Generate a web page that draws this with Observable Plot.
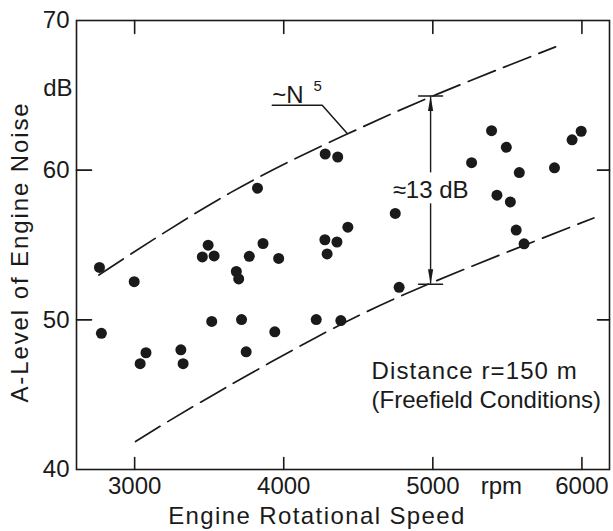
<!DOCTYPE html>
<html><head><meta charset="utf-8">
<script src="https://cdn.jsdelivr.net/npm/d3@7"></script>
<script src="https://cdn.jsdelivr.net/npm/@observablehq/plot@0.6"></script>
<style>body{margin:0;background:#fff}</style>
</head><body><div id="chart"></div>
<script>
// Measured points: engine speed (rpm) and A-level (dB)
const speed = [2764, 2777, 2997, 3037, 3076, 3310, 3325, 3454, 3493, 3533, 3517, 3682, 3698, 3717, 3769, 3748, 3824, 3861, 3966, 3940, 4218, 4278, 4362, 4276, 4291, 4357, 4383, 4430, 4748, 4774, 5260, 5394, 5430, 5493, 5520, 5580, 5559, 5612, 5816, 5934, 5995];
const level = [53.5, 49.1, 52.55, 47.07, 47.8, 48.0, 47.07, 54.2, 54.99, 54.27, 49.89, 53.23, 52.73, 50.02, 54.24, 47.86, 58.8, 55.1, 54.1, 49.2, 50.02, 61.08, 60.88, 55.35, 54.4, 55.2, 49.95, 56.19, 57.11, 52.17, 60.5, 62.64, 58.33, 61.53, 57.88, 59.84, 56.0, 55.08, 60.16, 62.03, 62.6];

// Envelope curves (~N^5)
const upperSpeed = [2760, 3643, 4414, 5030, 5823];
const upperLevel = [53.0, 58.5, 62.36, 65.08, 68.24];
const lowerSpeed = [3006, 3443, 4220, 4974, 6080];
const lowerLevel = [41.87, 44.5, 48.84, 52.4, 56.81];

// Axis ticks
const xTicks = [3000, 4000, 5000, 6000];
const yTicks = [40, 50, 60, 70];

// Annotations
const leadSpeed = [3923, 4258, 4426];
const leadLevel = [64.34, 64.34, 62.45];
const spanSpeed = 4985;
const spanTop = 64.96, spanBottom = 52.38;
const spanGapTop = 59.82, spanGapBottom = 57.75;
const spanLabel = {x: 4985, y: 58.64, text: "≈13 dB"};
const powerLabel = {x: 3923, y: 64.5, text: "~N"};
const powerExp = {x: 4200, y: 65.3, text: "5"};
const noteLines = [
  {x: 4589, y: 46.55, text: "Distance r=150 m"},
  {x: 4589, y: 44.6, text: "(Freefield Conditions)"}
];
const unitY = {y: 65.5, text: "dB"};
const unitX = {x: 5460, text: "rpm"};
const xTitle = "Engine Rotational Speed";
const yTitle = "A-Level of Engine Noise";

const points = speed.map((s, i) => ({s, l: level[i]}));
const upper = upperSpeed.map((s, i) => ({s, l: upperLevel[i]}));
const lower = lowerSpeed.map((s, i) => ({s, l: lowerLevel[i]}));
const lead = leadSpeed.map((s, i) => ({s, l: leadLevel[i]}));
const innerY = yTicks.filter(d => d > 40 && d < 70);

const ink = "#1a1a1a";
const lineShape = {draw(context, l) { context.moveTo(0, 0); context.lineTo(0, -l); }};

const chart = Plot.plot({
  width: 613, height: 531,
  marginLeft: 76, marginRight: 4, marginTop: 20, marginBottom: 62,
  style: {fontFamily: "'Liberation Sans', Arial, sans-serif", fontSize: "24px", background: "white", color: ink},
  x: {domain: [2610, 6185]},
  y: {domain: [40, 70]},
  marks: [
    Plot.frame({stroke: ink, strokeWidth: 1.6}),
    Plot.axisX({ticks: xTicks, tickSize: 0, tickPadding: 7, label: null, tickFormat: d => String(d)}),
    Plot.axisY({ticks: yTicks, tickSize: 0, tickPadding: 7, label: null, tickFormat: d => String(d)}),
    // inward ticks
    Plot.vector(xTicks, {x: d => d, frameAnchor: "bottom", length: 12, rotate: 0, anchor: "start", shape: lineShape, stroke: ink, strokeWidth: 1.6}),
    Plot.vector(xTicks, {x: d => d, frameAnchor: "top", length: 13, rotate: 180, anchor: "start", shape: lineShape, stroke: ink, strokeWidth: 1.6}),
    Plot.vector(innerY, {y: d => d, frameAnchor: "left", length: 15, rotate: 90, anchor: "start", shape: lineShape, stroke: ink, strokeWidth: 1.6}),
    Plot.vector(innerY, {y: d => d, frameAnchor: "right", length: 12, rotate: -90, anchor: "start", shape: lineShape, stroke: ink, strokeWidth: 1.6}),
    // envelope curves
    Plot.line(upper, {x: "s", y: "l", curve: "natural", stroke: ink, strokeWidth: 1.7, strokeDasharray: "29,9"}),
    Plot.line(lower, {x: "s", y: "l", curve: "natural", stroke: ink, strokeWidth: 1.7, strokeDasharray: "29,9"}),
    // data points
    Plot.dot(points, {x: "s", y: "l", r: 5.5, fill: ink, stroke: "none"}),
    // ~N^5 label with lead line
    Plot.line(lead, {x: "s", y: "l", stroke: ink, strokeWidth: 1.5}),
    Plot.text([powerLabel], {x: "x", y: "y", text: "text", textAnchor: "start", lineAnchor: "bottom"}),
    Plot.text([powerExp], {x: "x", y: "y", text: "text", textAnchor: "start", lineAnchor: "bottom", fontSize: 15}),
    // 13 dB span
    Plot.ruleX([spanSpeed], {x: d => d, y1: spanTop, y2: spanGapTop, stroke: ink, strokeWidth: 1.4}),
    Plot.ruleX([spanSpeed], {x: d => d, y1: spanGapBottom, y2: spanBottom, stroke: ink, strokeWidth: 1.4}),
    Plot.vector([spanTop], {x: spanSpeed, y: d => d, length: 15, r: 2.6, rotate: 0, anchor: "end", shape: "spike", fill: ink, stroke: "none"}),
    Plot.vector([spanBottom], {x: spanSpeed, y: d => d, length: 15, r: 2.6, rotate: 180, anchor: "end", shape: "spike", fill: ink, stroke: "none"}),
    Plot.vector([spanTop, spanBottom], {x: spanSpeed, y: d => d, length: 24, rotate: 90, anchor: "middle", shape: lineShape, stroke: ink, strokeWidth: 1.4}),
    Plot.text([spanLabel], {x: "x", y: "y", text: "text", textAnchor: "middle", lineAnchor: "middle"}),
    // notes
    Plot.text(noteLines, {x: "x", y: "y", text: "text", textAnchor: "start", lineAnchor: "middle"}),
    // units and titles
    Plot.text([unitY], {frameAnchor: "left", y: "y", text: "text", textAnchor: "end", lineAnchor: "middle", dx: -4}),
    Plot.text([unitX], {x: "x", frameAnchor: "bottom", text: "text", textAnchor: "middle", lineAnchor: "top", dy: 7}),
    Plot.text([xTitle], {frameAnchor: "bottom", text: d => d, textAnchor: "middle", lineAnchor: "middle", dy: 47, dx: -26}),
    Plot.text([yTitle], {frameAnchor: "left", text: d => d, rotate: -90, textAnchor: "middle", lineAnchor: "middle", dx: -56, dy: 7})
  ]
});
document.getElementById("chart").append(chart);

// letter spacing to match the wider technical lettering
const spacing = new Map([[xTitle, 1.4], [yTitle, 1.9], [noteLines[0].text, 1.1]]);
d3.select(chart).selectAll("text").each(function() {
  const s = spacing.get(this.textContent);
  if (s != null) this.setAttribute("letter-spacing", s);
});
</script>
</body></html>
